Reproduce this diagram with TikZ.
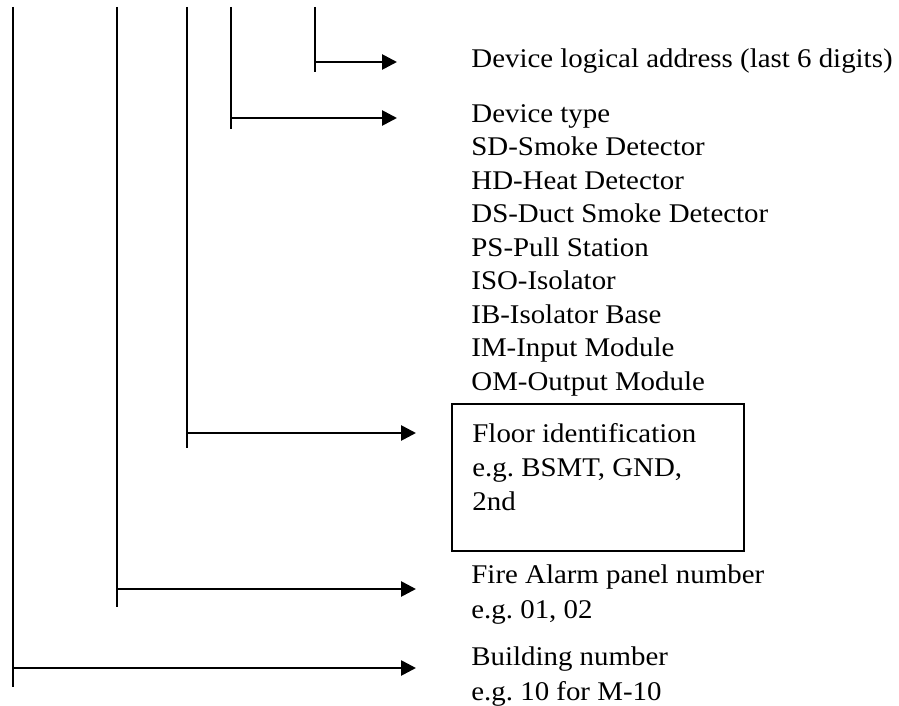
\documentclass[tikz,border=0pt]{standalone}
\usepackage{fontspec}
\setmainfont{Liberation Serif}[FakeStretch=1.07]
\usetikzlibrary{arrows.meta,positioning}

\tikzset{
  stem/.style={line width=1.35pt},
  txt/.style={anchor=base west, inner sep=0pt, align=left,
    font=\fontsize{13.5}{16.75}\selectfont\frenchspacing},
}

\begin{document}
\begin{tikzpicture}[x=0.5pt,y=-0.5pt,>={Triangle[length=7.5pt,width=7.5pt]}]
  \useasboundingbox (0,0) rectangle (899,706);

  % vertical stems, one per field
  \coordinate (bldg top) at (13,7);   \coordinate (bldg end) at (13,687);
  \coordinate (panel top) at (117,7); \coordinate (panel end) at (117,607);
  \coordinate (floor top) at (187,7); \coordinate (floor end) at (187,448);
  \coordinate (type top) at (231,7);  \coordinate (type end) at (231,129);
  \coordinate (addr top) at (315,7);  \coordinate (addr end) at (315,72);

  % where the arrows leave the stems and where they stop
  \coordinate (bldg from) at (13,668);  \coordinate (bldg tip) at (416,668);
  \coordinate (panel from) at (117,589); \coordinate (panel tip) at (416,589);
  \coordinate (floor from) at (187,433); \coordinate (floor tip) at (416,433);
  \coordinate (type from) at (231,118);  \coordinate (type tip) at (397,118);
  \coordinate (addr from) at (315,62);   \coordinate (addr tip) at (397,62);

  % labels (base of a multi-line node = its last line)
  \node (addr) [txt] at (471,68) {Device logical address (last 6 digits)};
  \node (type) [txt] at (471,390) {Device type\\SD-Smoke Detector\\HD-Heat Detector\\
    DS-Duct Smoke Detector\\PS-Pull Station\\ISO-Isolator\\IB-Isolator Base\\
    IM-Input Module\\OM-Output Module};
  \node (floorbox) [draw, line width=1pt, inner sep=0pt, anchor=north west,
    minimum width=146pt, minimum height=73.5pt] at (451,403) {};
  \node (floor) [txt, font=\fontsize{13.5}{17}\selectfont\frenchspacing] at (472,510)
    {Floor identification\\e.g. BSMT, GND,\\2nd};
  \node (panel) [txt, font=\fontsize{13.5}{17.5}\selectfont\frenchspacing] at (471,618)
    {Fire Alarm panel number\\e.g. 01, 02};
  \node (bldg) [txt, font=\fontsize{13.5}{17.5}\selectfont\frenchspacing] at (471,700)
    {Building number\\e.g. 10 for M-10};

  \draw[stem] (bldg top) -- (bldg end);
  \draw[stem] (panel top) -- (panel end);
  \draw[stem] (floor top) -- (floor end);
  \draw[stem] (type top) -- (type end);
  \draw[stem] (addr top) -- (addr end);

  \draw[stem,->] (bldg from) -- (bldg tip);
  \draw[stem,->] (panel from) -- (panel tip);
  \draw[stem,->] (floor from) -- (floor tip);
  \draw[stem,->] (type from) -- (type tip);
  \draw[stem,->] (addr from) -- (addr tip);
\end{tikzpicture}
\end{document}
